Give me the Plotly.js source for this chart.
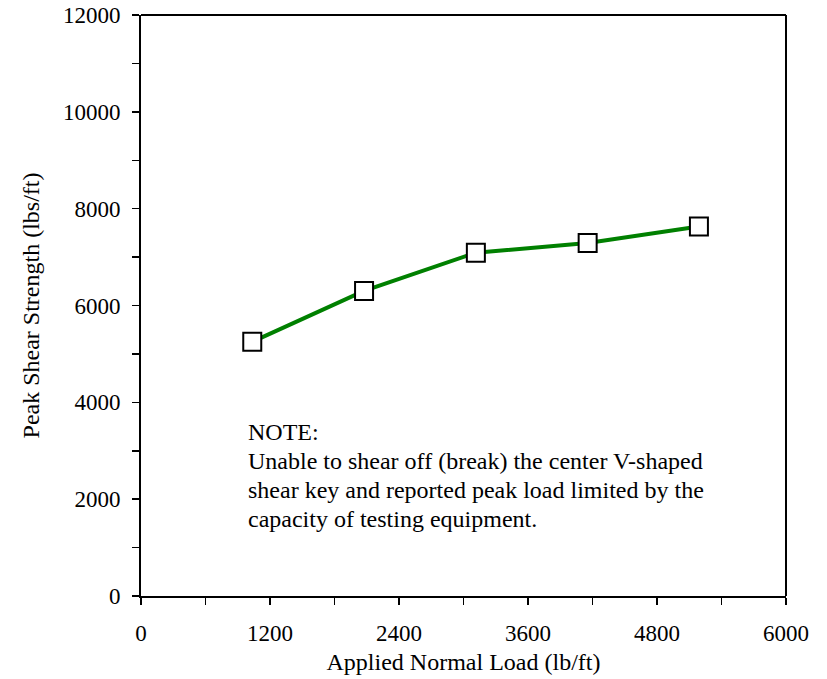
<!DOCTYPE html>
<html><head><meta charset="utf-8">
<script src="https://cdn.plot.ly/plotly-3.0.1.min.js"></script>
<style>body{margin:0;background:#fff}#c{width:827px;height:679px}</style>
</head><body><div id="c"></div>
<script>
const normalLoad = [1035, 2075, 3115, 4155, 5190];
const peakShear = [5250, 6300, 7090, 7290, 7630];
const xTicks = [0, 1200, 2400, 3600, 4800, 6000];
const yTicks = [0, 2000, 4000, 6000, 8000, 10000, 12000];
const noteLines = ["NOTE:", "Unable to shear off (break) the center V-shaped", "shear key and reported peak load limited by the", "capacity of testing equipment."];

const fam = '"Liberation Serif", "Times New Roman", serif';
const font = {family: fam, size: 24, color: '#000'};
const tickFont = {family: fam, size: 23, color: '#000'};
const trace = {
  x: normalLoad, y: peakShear, type: 'scatter', mode: 'lines+markers',
  line: {color: '#008000', width: 4},
  marker: {symbol: 'square', size: 18, color: '#fff', line: {color: '#000', width: 2}},
  cliponaxis: false
};
const axisCommon = {
  showgrid: false, zeroline: false, showline: true, linecolor: '#000', linewidth: 2,
  ticks: 'outside', ticklen: 7, tickwidth: 1.5, tickcolor: '#000',
  tickfont: tickFont, mirror: false
};
const layout = {
  width: 827, height: 679,
  margin: {l: 141, r: 41, t: 15, b: 83},
  paper_bgcolor: '#fff', plot_bgcolor: '#fff',
  showlegend: false, font: font,
  xaxis: Object.assign({}, axisCommon, {
    range: [0, 6000], tickvals: xTicks, ticktext: xTicks.map(String),
    ticklabelstandoff: 8,
    minor: {dtick: 600, ticks: 'outside', ticklen: 7, tickwidth: 1.5, tickcolor: '#000'},
    title: {text: 'Applied Normal Load (lb/ft)', font: font, standoff: 9}
  }),
  yaxis: Object.assign({}, axisCommon, {
    range: [0, 12000], tickvals: yTicks, ticktext: yTicks.map(String),
    ticklabelstandoff: 7,
    minor: {dtick: 1000, ticks: 'outside', ticklen: 7, tickwidth: 1.5, tickcolor: '#000'},
    title: {text: 'Peak Shear Strength (lbs/ft)', font: font, standoff: 17}
  }),
  shapes: [
    {type: 'line', xref: 'paper', yref: 'paper', x0: 0, x1: 1, y0: 1, y1: 1, line: {color: '#000', width: 2}},
    {type: 'line', xref: 'paper', yref: 'paper', x0: 1, x1: 1, y0: 0, y1: 1, line: {color: '#000', width: 2}}
  ],
  annotations: noteLines.map((t, i) => ({
    xref: 'paper', yref: 'paper', x: 0.1635, y: 0.283 - i * 0.0499,
    xanchor: 'left', yanchor: 'middle', align: 'left', showarrow: false,
    text: t, font: font
  }))
};
Plotly.newPlot('c', [trace], layout, {displayModeBar: false, staticPlot: true});
</script></body></html>
